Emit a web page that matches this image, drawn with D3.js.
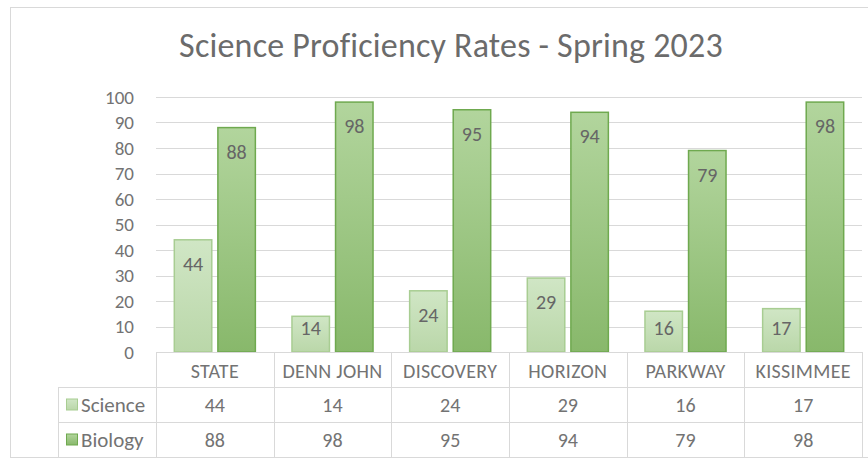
<!DOCTYPE html>
<html>
<head>
<meta charset="utf-8">
<script src="https://cdn.jsdelivr.net/npm/d3@7"></script>
<style>
body { margin: 0; background: #fff; }
text { font-family: Carlito, Calibri, Lato, sans-serif; fill: #737373; }
</style>
</head>
<body>
<svg id="chart" width="868" height="473"></svg>
<script>
// chart data
var categories = ["STATE", "DENN JOHN", "DISCOVERY", "HORIZON", "PARKWAY", "KISSIMMEE"];
var seriesNames = ["Science", "Biology"];
var science = [44, 14, 24, 29, 16, 17];
var biology = [88, 98, 95, 94, 79, 98];
var yTicks = [0, 10, 20, 30, 40, 50, 60, 70, 80, 90, 100];

var seriesValues = [science, biology];

var svg = d3.select("#chart");
var plotL = 156, plotR = 862, plotT = 97, base = 352;
var rowH = 35;

// gradients + frame
var defs = svg.append("defs");
var grads = [
  { id: "gSci", c0: "#d0e6c5", c1: "#bad7a9", stroke: "#a8cd92" },
  { id: "gBio", c0: "#b2d59d", c1: "#88b86b", stroke: "#6fa94f" }
];
grads.forEach(function(g) {
  var lg = defs.append("linearGradient").attr("id", g.id)
    .attr("x1", 0).attr("y1", 0).attr("x2", 0).attr("y2", 1);
  lg.append("stop").attr("offset", "0%").attr("stop-color", g.c0);
  lg.append("stop").attr("offset", "100%").attr("stop-color", g.c1);
});

svg.append("rect").attr("x", 10.5).attr("y", 7.5).attr("width", 880).attr("height", 450)
  .attr("fill", "#fff").attr("stroke", "#d9d9d9");

svg.append("text").attr("x", 451).attr("y", 57).attr("text-anchor", "middle")
  .style("font-size", "34px").style("letter-spacing", "0.2px").style("fill", "#6b6b6b")
  .text("Science Proficiency Rates - Spring 2023");

var y = d3.scaleLinear().domain([0, 100]).range([base, plotT]);
var x0 = d3.scaleBand().domain(categories).range([plotL, plotR]);
var x1 = d3.scaleBand().domain(seriesNames).range([0, x0.bandwidth()])
  .paddingInner(0.14).paddingOuter(0.42);

// gridlines
svg.append("g").selectAll("line").data(yTicks.filter(function(t) { return t > 0; }))
  .join("line")
  .attr("x1", plotL).attr("x2", plotR)
  .attr("y1", function(d) { return Math.round(y(d)) + 0.5; })
  .attr("y2", function(d) { return Math.round(y(d)) + 0.5; })
  .attr("stroke", "#d9d9d9").attr("stroke-width", 1);

// y axis labels
var yAxis = d3.axisLeft(y).tickValues(yTicks).tickSize(0).tickPadding(0);
var ya = svg.append("g").attr("transform", "translate(134,0)").call(yAxis);
ya.select(".domain").remove();
ya.selectAll("text").style("font-size", "19px").attr("fill", "#737373")
  .style("font-family", "Carlito, Calibri, Lato, sans-serif");

// bars
var groups = svg.append("g").selectAll("g").data(categories).join("g")
  .attr("transform", function(d) { return "translate(" + x0(d) + ",0)"; });

function barData(d, i) {
  return seriesNames.map(function(s, k) { return { s: s, k: k, v: seriesValues[k][i] }; });
}

groups.selectAll("rect").data(barData)
  .join("rect")
  .attr("x", function(d) { return x1(d.s); })
  .attr("y", function(d) { return y(d.v); })
  .attr("width", x1.bandwidth())
  .attr("height", function(d) { return base - y(d.v); })
  .attr("fill", function(d) { return "url(#" + grads[d.k].id + ")"; })
  .attr("stroke", function(d) { return grads[d.k].stroke; })
  .attr("stroke-width", 1.5);

groups.selectAll("text.lbl").data(barData)
  .join("text").attr("class", "lbl")
  .attr("x", function(d) { return x1(d.s) + x1.bandwidth() / 2; })
  .attr("y", function(d) { return Math.min(y(d.v) + 24, base - 24); })
  .attr("dy", "0.35em").attr("text-anchor", "middle")
  .style("font-size", "20px").style("fill", "#666").text(function(d) { return d.v; });

// data table
var tbl = svg.append("g");
var lineColor = "#d9d9d9";
function hline(xa, xb, yy) {
  tbl.append("line").attr("x1", xa).attr("x2", xb).attr("y1", yy + 0.5).attr("y2", yy + 0.5)
    .attr("stroke", lineColor);
}
function vline(xx, ya_, yb) {
  tbl.append("line").attr("x1", xx + 0.5).attr("x2", xx + 0.5).attr("y1", ya_).attr("y2", yb)
    .attr("stroke", lineColor);
}
hline(plotL, plotR, base);
hline(58, plotR, base + rowH);
hline(58, plotR, base + rowH * 2);
hline(58, plotR, base + rowH * 3);
vline(58, base + rowH, base + rowH * 3);
categories.forEach(function(c) { vline(Math.round(x0(c)), base, base + rowH * 3); });
vline(plotR, base, base + rowH * 3);

tbl.selectAll("text.cat").data(categories).join("text").attr("class", "cat")
  .attr("x", function(d) { return x0(d) + x0.bandwidth() / 2; })
  .attr("y", base + rowH / 2 + 1).attr("dy", "0.35em").attr("text-anchor", "middle")
  .style("font-size", "20px").style("letter-spacing", "0.3px").text(function(d) { return d; });

seriesNames.forEach(function(s, k) {
  var ry = base + rowH * (k + 1) + rowH / 2;
  tbl.append("rect").attr("x", 66.5).attr("y", ry - 5.5).attr("width", 11).attr("height", 11)
    .attr("fill", "url(#" + grads[k].id + ")").attr("stroke", grads[k].stroke);
  tbl.append("text").attr("x", 81).attr("y", ry).attr("dy", "0.35em")
    .style("font-size", "21px").text(s);
  tbl.selectAll("text.v" + k).data(seriesValues[k]).join("text").attr("class", "v" + k)
    .attr("x", function(d, i) { return x0(categories[i]) + x0.bandwidth() / 2; })
    .attr("y", ry).attr("dy", "0.35em").attr("text-anchor", "middle")
    .style("font-size", "20px").text(function(d) { return d; });
});
</script>
</body>
</html>
